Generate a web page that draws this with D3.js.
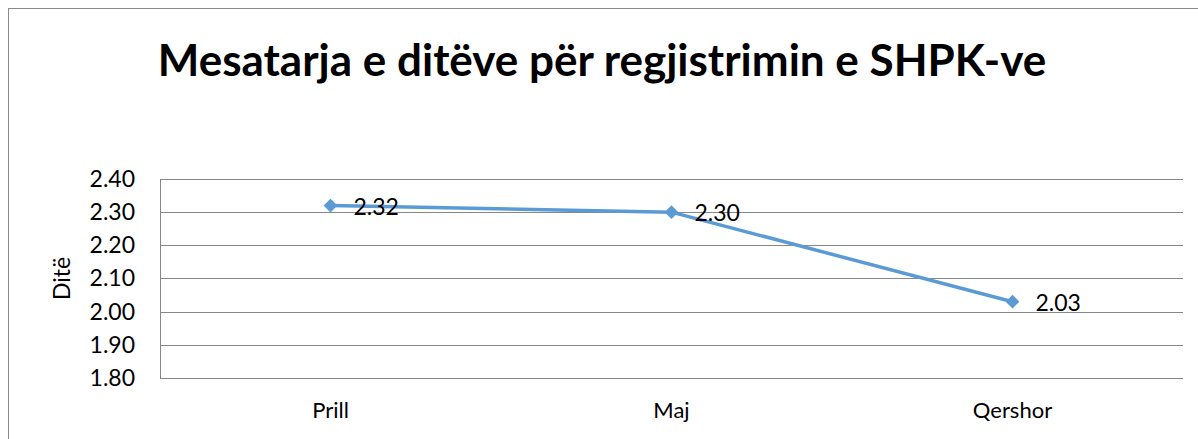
<!DOCTYPE html>
<html>
<head>
<meta charset="utf-8">
<script src="https://cdn.jsdelivr.net/npm/d3@7"></script>
<style>
  body { margin: 0; background: #fff; }
  text { font-family: Lato, "Open Sans", sans-serif; fill: #000; }
</style>
</head>
<body>
<svg id="chart" width="1198" height="439"></svg>
<script>
var title = "Mesatarja e ditëve për regjistrimin e SHPK-ve";
var yTitle = "Ditë";
var months = ["Prill", "Maj", "Qershor"];
var days = [2.32, 2.30, 2.03];
var yTicks = [1.8, 1.9, 2.0, 2.1, 2.2, 2.3, 2.4];

var svg = d3.select("#chart");
var margin = {top: 179, right: 15, bottom: 61, left: 160};
var width = 1198 - margin.left - margin.right,
    height = 439 - margin.top - margin.bottom;

// outer chart border (cut at right and bottom)
svg.append("rect")
    .attr("x", 8.5).attr("y", 8.5)
    .attr("width", 1300).attr("height", 600)
    .attr("fill", "none")
    .attr("stroke", "#8a8a8a")
    .attr("stroke-width", 1);

svg.append("text")
    .attr("x", 602).attr("y", 76)
    .attr("text-anchor", "middle")
    .style("font-weight", "bold")
    .style("font-size", "44px")
    .text(title);

var g = svg.append("g")
    .attr("transform", "translate(" + margin.left + "," + margin.top + ")");

var x = d3.scaleBand().domain(months).range([0, width]);
var y = d3.scaleLinear().domain([1.8, 2.4]).range([height, 0]);

// gridlines
g.selectAll("line.grid")
    .data(yTicks)
    .enter()
    .append("line")
    .classed("grid", true)
    .attr("x1", 0).attr("x2", width)
    .attr("y1", function(d){ return Math.round(y(d)) + 0.5; })
    .attr("y2", function(d){ return Math.round(y(d)) + 0.5; })
    .attr("stroke", "#878787");

g.append("line")
    .attr("x1", 0.5).attr("x2", 0.5)
    .attr("y1", 0).attr("y2", height)
    .attr("stroke", "#878787");

// y axis labels
var yAxis = g.append("g")
    .call(d3.axisLeft(y).tickValues(yTicks).tickFormat(d3.format(".2f")).tickSize(0).tickPadding(25));
yAxis.select(".domain").remove();
yAxis.selectAll("text")
    .style("font-size", "23px")
    .style("font-family", "Lato, sans-serif")
    .attr("fill", "#000");

// x axis labels
var xAxis = g.append("g")
    .attr("transform", "translate(0," + height + ")")
    .call(d3.axisBottom(x).tickSize(0).tickPadding(24));
xAxis.select(".domain").remove();
xAxis.selectAll("text")
    .style("font-size", "22px")
    .style("font-family", "Lato, sans-serif")
    .attr("fill", "#000");

svg.append("text")
    .attr("transform", "translate(70," + (margin.top + height / 2) + ") rotate(-90)")
    .attr("text-anchor", "middle")
    .style("font-size", "23px")
    .text(yTitle);

var pts = months.map(function(m, i){ return {m: m, v: days[i]}; });
var cx = function(d){ return x(d.m) + x.bandwidth() / 2; };

var line = d3.line()
    .x(cx)
    .y(function(d){ return y(d.v); });

g.append("path")
    .datum(pts)
    .attr("d", line)
    .attr("fill", "none")
    .attr("stroke", "#5b9bd5")
    .attr("stroke-width", 3.5)
    .attr("stroke-linejoin", "round");

g.selectAll("path.marker")
    .data(pts)
    .enter()
    .append("path")
    .classed("marker", true)
    .attr("d", d3.symbol(d3.symbolDiamond2, 120))
    .attr("transform", function(d){ return "translate(" + cx(d) + "," + y(d.v) + ")"; })
    .attr("fill", "#5b9bd5");

g.selectAll("text.lbl")
    .data(pts)
    .enter()
    .append("text")
    .classed("lbl", true)
    .attr("x", function(d){ return cx(d) + 23; })
    .attr("y", function(d){ return y(d.v) + 9; })
    .style("font-size", "23px")
    .text(function(d){ return d3.format(".2f")(d.v); });
</script>
</body>
</html>
